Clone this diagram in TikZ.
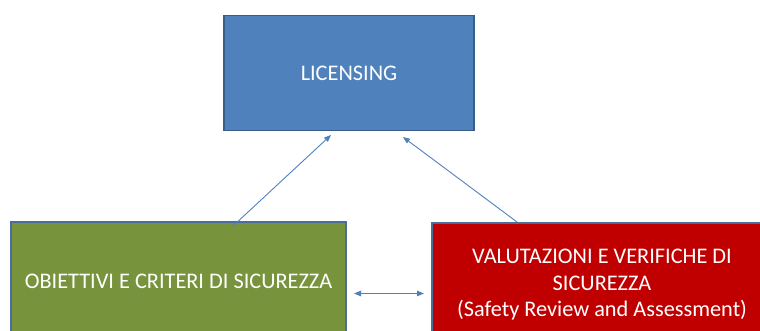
\documentclass[tikz,border=0pt]{standalone}
\usepackage{fontspec}
\setmainfont{Carlito}
\usetikzlibrary{arrows.meta}
\definecolor{lblue}{HTML}{4F81BD}
\definecolor{lblueedge}{HTML}{385D8A}
\definecolor{lgreen}{HTML}{77933C}
\definecolor{lred}{HTML}{C00000}
\definecolor{edgeblue}{HTML}{4A6E9C}
\begin{document}
\begin{tikzpicture}[x=1pt,y=-1pt,
  box/.style={draw=edgeblue,line width=1.4pt,text=white,align=center,
    font=\fontsize{22.3}{26.5}\selectfont,inner sep=0pt},
  link/.style={draw=lblue,line width=0.9pt,-{Triangle[length=7pt,width=5.5pt]}},
  twoway/.style={draw=lblue,line width=0.9pt,{Triangle[length=7pt,width=5.5pt]}-{Triangle[length=7pt,width=5.5pt]}}]
  \useasboundingbox (0,0) rectangle (760,331);
  \clip (0,0) rectangle (760,331);
  % top box
  \node[box,fill=lblue,draw=lblueedge,minimum width=250pt,minimum height=115pt]
    (lic) at (349,73) {LICENSING};
  % lower left box
  \node[box,fill=lgreen,minimum width=335pt,minimum height=118pt]
    (obj) at (178.5,281) {OBIETTIVI E CRITERI DI SICUREZZA};
  % lower right box
  \node[box,fill=lred,minimum width=340pt,minimum height=124pt]
    (val) at (602,285) {VALUTAZIONI E VERIFICHE DI\\SICUREZZA\\(Safety Review and Assessment)};
  % connector end points
  \coordinate (objout) at (233,226);
  \coordinate (licinL) at (331,135);
  \coordinate (valout) at (517,222);
  \coordinate (licinR) at (403,137);
  \coordinate (objside) at (354,293.5);
  \coordinate (valside) at (424,293.5);
  \draw[link] (objout) -- (licinL);
  \draw[link] (valout) -- (licinR);
  \draw[twoway] (objside) -- (valside);
\end{tikzpicture}
\end{document}
